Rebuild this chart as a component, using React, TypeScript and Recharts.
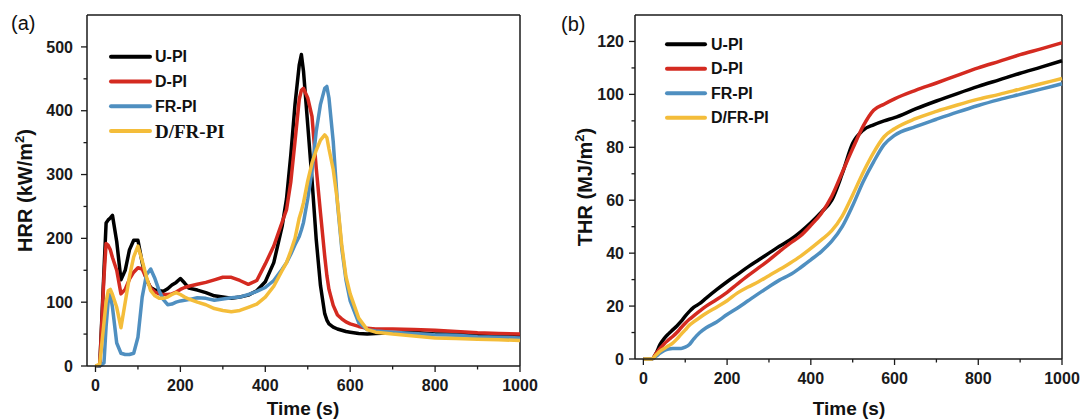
import React from 'react';
import { LineChart, Line, XAxis, YAxis, ReferenceLine } from 'recharts';

const FONT = "Arial, 'Liberation Sans', sans-serif";

const SERIES_NAMES = ['U-PI', 'D-PI', 'FR-PI', 'D/FR-PI'];
const SERIES_COLORS = ['#000000', '#d42a20', '#4f8fc0', '#f4bd3a'];

// (a) heat release rate, kW/m2
const HRR_TIME = [
  0, 10, 20, 25, 30, 35, 40, 50, 60, 70, 80, 90, 100, 110, 120, 130, 140, 150, 160, 170,
  180, 190, 200, 210, 220, 240, 260, 280, 300, 320, 340, 360, 380, 400, 420, 440, 450, 460, 470, 480,
  485, 490, 500, 510, 520, 530, 540, 545, 550, 560, 570, 580, 590, 600, 620, 640, 660, 700, 750, 800,
  850, 900, 950, 1000,
];
const HRR_U = [
  0, 0, 150, 224, 229, 232, 236, 195, 135, 150, 182, 197, 197, 162, 135, 123, 119, 118, 117, 121,
  127, 131, 137, 130, 122, 119, 115, 110, 108, 106, 108, 111, 118, 132, 162, 220, 262, 330, 410, 472,
  488, 462, 378, 292, 198, 126, 82, 72, 66, 61, 58, 56, 54, 53, 51, 50, 51, 52, 53, 50,
  50, 49, 49, 48,
];
const HRR_D = [
  0, 0, 140, 192, 189, 182, 170, 150, 113, 120, 136, 147, 154, 152, 137, 122, 116, 113, 112, 112,
  113, 116, 120, 123, 125, 128, 131, 135, 139, 139, 134, 128, 134, 160, 188, 226, 245, 288, 352, 418,
  432, 435, 420, 391, 310, 240, 172, 142, 120, 95, 80, 74, 69, 66, 62, 59, 58, 58, 57, 56,
  54, 52, 51, 50,
];
const HRR_FR = [
  0, 0, 5, 62, 102, 112, 92, 36, 20, 18, 18, 20, 45, 108, 143, 152, 137, 118, 104, 96,
  97, 100, 102, 103, 104, 107, 106, 103, 105, 107, 108, 112, 117, 123, 134, 152, 162, 175, 190, 203,
  213, 225, 262, 305, 368, 410, 435, 438, 420, 352, 255, 185, 135, 102, 68, 57, 55, 53, 51, 49,
  48, 46, 45, 44,
];
const HRR_DFR = [
  0, 3, 68, 100, 118, 120, 112, 92, 60, 100, 140, 171, 188, 165, 140, 118, 110, 106, 106, 108,
  112, 115, 112, 108, 105, 100, 96, 90, 87, 85, 87, 92, 97, 108, 125, 150, 162, 180, 200, 232,
  243, 256, 290, 318, 338, 354, 362, 358, 340, 308, 258, 190, 140, 113, 75, 57, 53, 50, 47, 44,
  43, 42, 41, 40,
];

// (b) total heat release, MJ/m2
const THR_TIME = [
  0, 20, 30, 40, 50, 60, 70, 80, 90, 100, 110, 120, 135, 150, 175, 200, 225, 250, 275, 300,
  325, 350, 375, 400, 425, 450, 475, 500, 525, 550, 575, 600, 650, 700, 750, 800, 850, 900, 950, 1000,
];
const THR_U = [
  0, 0, 2, 5.5, 7.8, 9.5, 11, 12.5, 14.2, 16.2, 18, 19.5, 21, 23, 26.2, 29.2, 32, 34.8, 37.4, 40,
  42.6, 45, 48, 51.5, 55.5, 60, 70, 81.5, 86.5, 88.5, 90, 91.2, 94.5, 97.5, 100.3, 103, 105.5, 108, 110.3, 112.7,
];
const THR_D = [
  0, 0, 2, 4, 5.8, 7.2, 8.5, 10, 11.8, 13.5, 15, 16.3, 18.2, 20, 22.5, 25.2, 28.4, 31.5, 34.4, 37.4,
  40.6, 43.7, 46.5, 50.5, 55, 61.5, 70.5, 79.5, 88, 94, 96.3, 98.3, 101.5, 104.3, 107.2, 110, 112.5, 115, 117.2, 119.5,
];
const THR_FR = [
  0, 0, 1, 2.2, 3.2, 3.8, 4, 4, 4, 4.5, 5.5, 7.5, 10, 11.8, 14, 16.8, 19.3, 22, 24.7, 27.3,
  29.8, 31.8, 34.5, 37.5, 40.6, 44.5, 50, 58, 67, 74.5, 81, 84.5, 87.8, 90.6, 93.3, 95.8, 98, 100, 102, 104,
];
const THR_DFR = [
  0, 0, 1.5, 3, 4, 5, 6, 7.5, 9.3, 11, 12.8, 14, 15.7, 17.3, 19.6, 22, 25, 27.2, 29.2, 31.5,
  33.8, 36.2, 38.8, 41.8, 45, 48.5, 54, 62, 70.5, 78, 84, 87, 90.8, 93.6, 96, 98.2, 100, 102, 104, 106,
];

const X_TICKS = [0, 100, 200, 300, 400, 500, 600, 700, 800, 900, 1000];
const HRR_TICKS = [0, 50, 100, 150, 200, 250, 300, 350, 400, 450, 500];
const THR_TICKS = [0, 10, 20, 30, 40, 50, 60, 70, 80, 90, 100, 110, 120];

const hrrData = HRR_TIME.map((t, i) => ({ t, s0: HRR_U[i], s1: HRR_D[i], s2: HRR_FR[i], s3: HRR_DFR[i] }));
const thrData = THR_TIME.map((t, i) => ({ t, s0: THR_U[i], s1: THR_D[i], s2: THR_FR[i], s3: THR_DFR[i] }));

const AXIS = '#1a1a1a';

const makeXTick = (majorStep: number) => (props: any) => {
  const { x, y, payload } = props;
  const major = payload.value % majorStep === 0;
  return (
    <g>
      <line x1={x} y1={y} x2={x} y2={y + (major ? 6 : 3.5)} stroke={AXIS} strokeWidth={1.3} />
      {major && (
        <text x={x} y={y + 25} textAnchor="middle" fontSize={16} fontWeight="bold" fill={AXIS} fontFamily={FONT}>
          {payload.value}
        </text>
      )}
    </g>
  );
};

const makeYTick = (majorStep: number, gap: number) => (props: any) => {
  const { x, y, payload } = props;
  const major = payload.value % majorStep === 0;
  return (
    <g>
      <line x1={x} y1={y} x2={x - (major ? 6 : 3.5)} y2={y} stroke={AXIS} strokeWidth={1.3} />
      {major && (
        <text x={x - gap} y={y + 5.6} textAnchor="end" fontSize={16} fontWeight="bold" fill={AXIS} fontFamily={FONT}>
          {payload.value}
        </text>
      )}
    </g>
  );
};

// draw order: black, red, blue, yellow
const ORDER = [0, 1, 2, 3];

function Panel({ data, yMax, yTicks, yMajor, yGap, yAxisWidth, xAxisHeight, type }: any) {
  return (
    <LineChart width={540} height={419} data={data} margin={{ top: 15, right: 20, bottom: 0, left: 0 }}>
      <XAxis
        dataKey="t"
        type="number"
        domain={[-20, 1000]}
        ticks={X_TICKS}
        interval={0}
        height={xAxisHeight}
        tickSize={0}
        tickMargin={0}
        tickLine={false}
        axisLine={{ stroke: AXIS, strokeWidth: 1.5 }}
        tick={makeXTick(200)}
      />
      <YAxis
        type="number"
        domain={[0, yMax]}
        ticks={yTicks}
        interval={0}
        width={yAxisWidth}
        tickSize={0}
        tickMargin={0}
        tickLine={false}
        axisLine={{ stroke: AXIS, strokeWidth: 1.5 }}
        tick={makeYTick(yMajor, yGap)}
      />
      <ReferenceLine y={yMax} stroke={AXIS} strokeWidth={1.5} />
      <ReferenceLine x={1000} stroke={AXIS} strokeWidth={1.5} />
      {ORDER.map((i) => (
        <Line
          key={i}
          dataKey={`s${i}`}
          type={type}
          stroke={SERIES_COLORS[i]}
          strokeWidth={3.5}
          strokeLinejoin="round"
          dot={false}
          isAnimationActive={false}
        />
      ))}
    </LineChart>
  );
}

function LegendBlock({ x, y, step, len, textX, serifLast }: any) {
  return (
    <g>
      {SERIES_NAMES.map((name, i) => {
        const yy = y + i * step;
        const serif = serifLast && i === 3;
        return (
          <g key={name}>
            <line x1={x} y1={yy} x2={x + len} y2={yy} stroke={SERIES_COLORS[i]} strokeWidth={4} strokeLinecap="round" />
            <text
              x={textX}
              y={yy + (serif ? 6.5 : 5.6)}
              fontSize={serif ? 19 : 16}
              fontWeight="bold"
              fill="#111"
              fontFamily={serif ? "'Times New Roman', 'Liberation Serif', serif" : FONT}
            >
              {name}
            </text>
          </g>
        );
      })}
    </g>
  );
}

export default function App() {
  return (
    <div style={{ position: 'absolute', left: 0, top: 0, width: 1082, height: 419, background: '#fff', overflow: 'hidden' }}>
      <div style={{ position: 'absolute', left: 0, top: 0 }}>
        <Panel data={hrrData} yMax={550} yTicks={HRR_TICKS} yMajor={100} yGap={14} yAxisWidth={87} xAxisHeight={53} type="linear" />
      </div>
      <div style={{ position: 'absolute', left: 542, top: 0 }}>
        <Panel data={thrData} yMax={130} yTicks={THR_TICKS} yMajor={20} yGap={11} yAxisWidth={93} xAxisHeight={60} type="monotone" />
      </div>
      <svg width={1082} height={419} style={{ position: 'absolute', left: 0, top: 0, pointerEvents: 'none' }}>
        <text x={11} y={30} fontSize={20} fill="#111" fontFamily={FONT}>(a)</text>
        <text x={561} y={31} fontSize={20} fill="#111" fontFamily={FONT}>(b)</text>

        <text transform="translate(32,190.5) rotate(-90)" textAnchor="middle" fontSize={20} fontWeight="bold" fill="#111" fontFamily={FONT}>
          HRR (kW/m<tspan fontSize={13} dy={-8}>2</tspan><tspan dy={8}>)</tspan>
        </text>
        <text transform="translate(591.5,187) rotate(-90)" textAnchor="middle" fontSize={20} fontWeight="bold" fill="#111" fontFamily={FONT}>
          THR (MJ/m<tspan fontSize={13} dy={-8}>2</tspan><tspan dy={8}>)</tspan>
        </text>

        <text x={303} y={415} textAnchor="middle" fontSize={19} fontWeight="bold" fill="#111" fontFamily={FONT}>Time (s)</text>
        <text x={849} y={415} textAnchor="middle" fontSize={19} fontWeight="bold" fill="#111" fontFamily={FONT}>Time (s)</text>

        <LegendBlock x={111} y={56.7} step={24.8} len={39} textX={155} serifLast />
        <LegendBlock x={667} y={44.3} step={24.5} len={38} textX={711} serifLast={false} />
      </svg>
    </div>
  );
}
